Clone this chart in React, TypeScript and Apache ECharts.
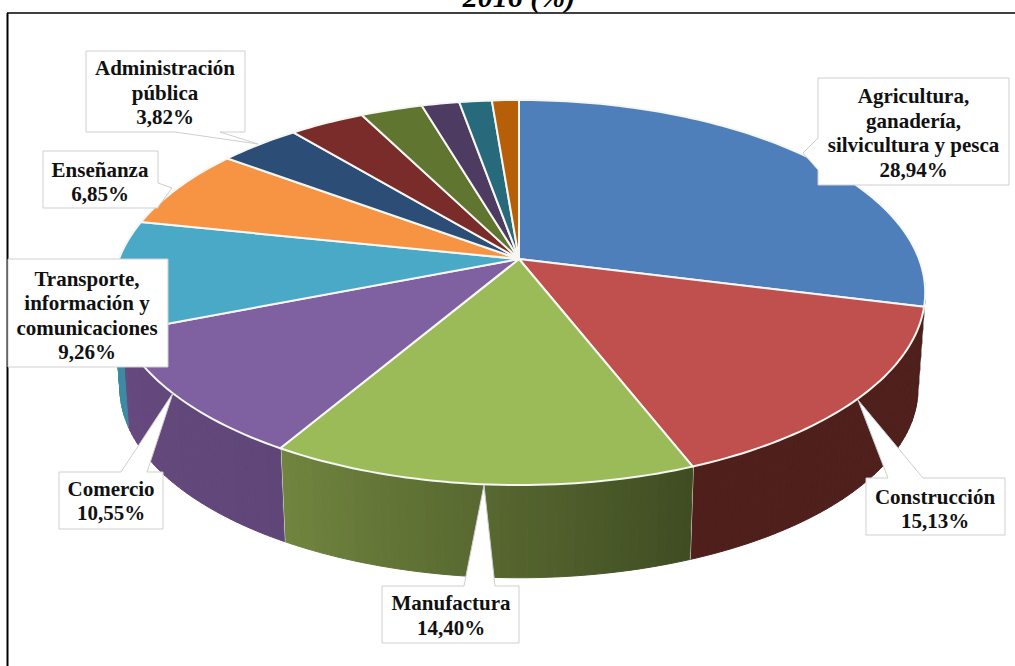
import React, { useEffect, useRef } from "react";
import * as echarts from "echarts";

// Share of each sector, clockwise from twelve o'clock (%)
const sectorNames = [
  "Agricultura,\nganadería,\nsilvicultura y pesca",
  "Construcción",
  "Manufactura",
  "Comercio",
  "Transporte,\ninformación y\ncomunicaciones",
  "Enseñanza",
  "Administración\npública",
  "",
  "",
  "",
  "",
  "",
];
const sectorValues = [28.94, 15.13, 14.4, 10.55, 9.26, 6.85, 3.82, 3.55, 2.92, 1.78, 1.53, 1.27];

const topColors = [
  "#4f7fbb", "#bf504d", "#9bbb59", "#7f60a0", "#4aa9c6", "#f69443",
  "#2b4d76", "#7a2c2a", "#5f7530", "#4d3b62", "#276a7c", "#b65f08",
];
const wallStartColors = [
  "#2f4d72", "#4f1f1c", "#72853f", "#66497f", "#3c8ba3", "#f69443",
  "#2b4d76", "#7a2c2a", "#5f7530", "#4d3b62", "#276a7c", "#b65f08",
];
const wallEndColors = [
  "#2f4d72", "#4f1f1c", "#3f4c22", "#5f4678", "#3c8ba3", "#f69443",
  "#2b4d76", "#7a2c2a", "#5f7530", "#4d3b62", "#276a7c", "#b65f08",
];

// Callout boxes, in the same order as the labelled sectors
const callouts = [
  { cx: 913.5, cy: 133, points: [[818, 78], [1009, 78], [1009, 185], [818, 185], [818, 170], [803, 153], [818, 138]] },
  { cx: 935, cy: 509, points: [[866, 478], [888, 478], [858, 400], [923, 478], [1005, 478], [1005, 535], [866, 535]] },
  { cx: 451, cy: 615.5, points: [[382, 586], [464, 586], [484, 485], [495, 586], [519, 586], [519, 643], [382, 643]] },
  { cx: 111, cy: 501, points: [[59, 472], [121, 472], [173, 393], [147, 472], [163, 472], [163, 529], [59, 529]] },
  { cx: 87, cy: 315.5, points: [[8, 259], [168, 259], [168, 367], [8, 367]] },
  { cx: 100, cy: 182, points: [[43, 151], [158, 151], [158, 183], [172, 188], [158, 207], [158, 208], [43, 208]] },
  { cx: 165, cy: 92.5, points: [[86, 51], [245, 51], [245, 132], [220, 132], [258, 144], [175, 132], [86, 132]] },
];

const SERIF = '"Liberation Serif", "Times New Roman", serif';
const total = sectorValues.reduce((a, b) => a + b, 0);
const cumulative = sectorValues.reduce<number[]>((acc, v) => [...acc, acc[acc.length - 1] + v], [0]);

// A perspective view of a disc: phi is measured clockwise from the back of the disc.
const K = 0.174;
const project = (phi: number, lower: boolean): number[] => {
  const u = Math.sin(phi);
  const v = -Math.cos(phi);
  const w = 1 - K * v;
  return lower
    ? [519 + (393 * u) / w, 355 + (184 * v) / w]
    : [519 + (400 * u) / w, 259 + (186.7 * v) / w];
};
const angleOf = (share: number) => (share / total) * Math.PI * 2;

const mix = (a: string, b: string, t: number) => {
  const c = (s: string, i: number) => parseInt(s.slice(i, i + 2), 16);
  const ch = (i: number) => Math.round(c(a, i) + (c(b, i) - c(a, i)) * t);
  return `rgb(${ch(1)},${ch(3)},${ch(5)})`;
};

const renderWall = (params: any, api: any) => {
  const i = params.dataIndex;
  const from = angleOf(cumulative[i]);
  const to = from + angleOf(api.value(0));
  const visFrom = Math.max(from, Math.PI * 0.54);
  const visTo = Math.min(to, Math.PI * 1.58);
  if (visTo <= visFrom) return { type: "group", children: [] };
  const steps = Math.max(2, Math.ceil((visTo - visFrom) / 0.02));
  const children: any[] = [];
  for (let s = 0; s < steps; s++) {
    const a = visFrom + ((visTo - visFrom) * s) / steps;
    const b = visFrom + ((visTo - visFrom) * (s + 1)) / steps;
    const fill = mix(wallStartColors[i], wallEndColors[i], 1 - (s + 0.5) / steps);
    children.push({
      type: "polygon",
      shape: { points: [project(a, false), project(b, false), project(b, true), project(a, true)] },
      style: { fill, stroke: fill, lineWidth: 1 },
    });
  }
  if (to < Math.PI * 1.35) {
    children.push({
      type: "line",
      shape: {
        x1: project(to, false)[0], y1: project(to, false)[1],
        x2: project(to, true)[0], y2: project(to, true)[1],
      },
      style: { stroke: "#f4f6ee", lineWidth: 2 },
    });
  }
  return { type: "group", children };
};

const renderTop = (params: any, api: any) => {
  const i = params.dataIndex;
  const from = angleOf(cumulative[i]);
  const to = from + angleOf(api.value(0));
  const steps = Math.ceil((to - from) / 0.02);
  const points = [[519, 259]];
  for (let s = 0; s <= steps; s++) points.push(project(from + ((to - from) * s) / steps, false));
  return {
    type: "polygon",
    shape: { points },
    style: { fill: topColors[i], stroke: "#f6f6f2", lineWidth: 2, lineJoin: "round" },
  };
};

const percent = (v: number) => v.toFixed(2).replace(".", ",") + "%";

export default function App() {
  const ref = useRef<HTMLDivElement>(null);
  useEffect(() => {
    document.body.style.margin = "0";
    document.body.style.background = "#fff";
    const chart = echarts.init(ref.current!, null, { renderer: "svg" });
    const seriesData = sectorValues.map((v) => [v]);
    chart.setOption({
      animation: false,
      backgroundColor: "#ffffff",
      title: {
        text: "2016 (%)",
        left: 519,
        top: -19,
        textAlign: "center",
        padding: 0,
        textStyle: { fontFamily: SERIF, fontStyle: "italic", fontWeight: "bold", fontSize: 30, color: "#000" },
      },
      series: [
        { type: "custom", coordinateSystem: "none", silent: true, z: 1, data: seriesData, renderItem: renderWall },
        { type: "custom", coordinateSystem: "none", silent: true, z: 2, data: seriesData, renderItem: renderTop },
      ],
      graphic: [
        { type: "line", z: 5, shape: { x1: 7.5, y1: 13, x2: 7.5, y2: 666 }, style: { stroke: "#000", lineWidth: 2 } },
        { type: "line", z: 5, shape: { x1: 7, y1: 13, x2: 1015, y2: 13 }, style: { stroke: "#000", lineWidth: 1.5 } },
        ...callouts.flatMap((c, i) => [
          {
            type: "polygon",
            z: 6,
            shape: { points: c.points },
            style: { fill: "#ffffff", stroke: "#cfcfcf", lineWidth: 1 },
          },
          {
            type: "text",
            z: 7,
            x: c.cx,
            y: c.cy,
            style: {
              text: `${sectorNames[i]}\n${percent(sectorValues[i])}`,
              font: `bold 21px ${SERIF}`,
              fill: "#111",
              lineHeight: 24.6,
              textAlign: "center",
              textVerticalAlign: "middle",
            },
          },
        ]),
      ],
    });
    return () => chart.dispose();
  }, []);
  return <div ref={ref} style={{ width: 1015, height: 666 }} />;
}
